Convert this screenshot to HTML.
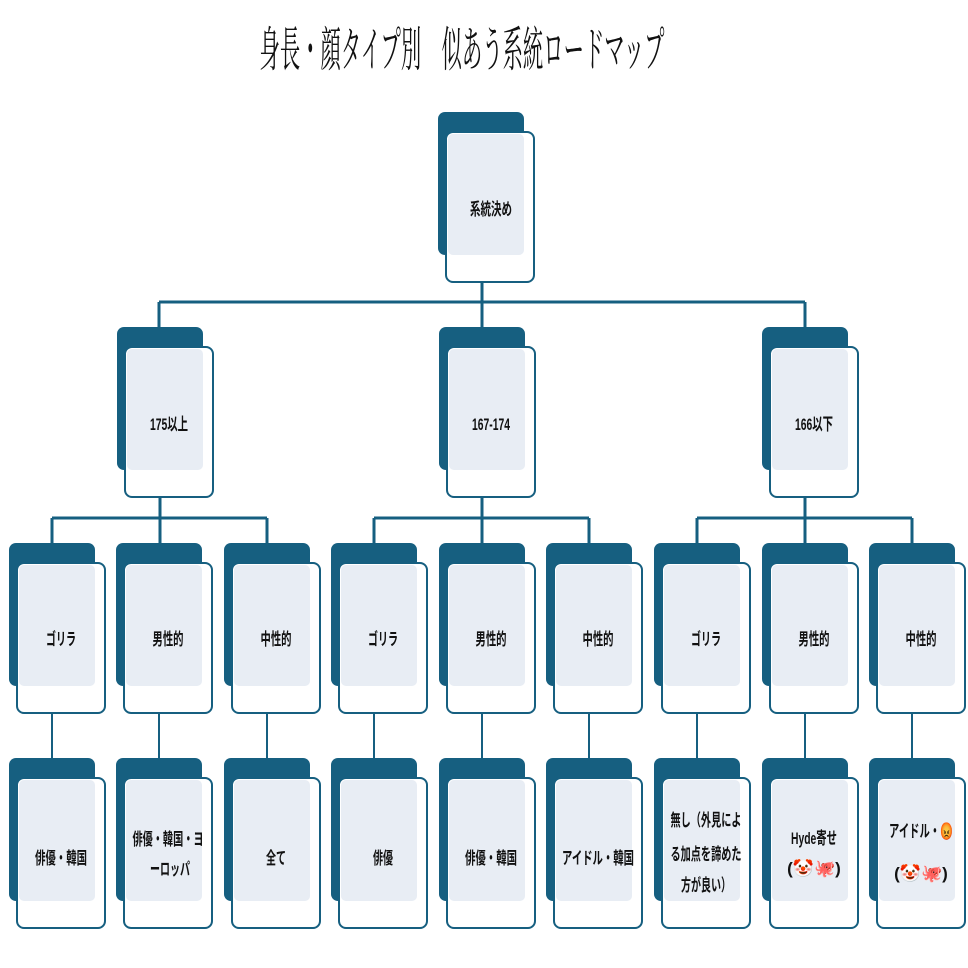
<!DOCTYPE html>
<html><head><meta charset="utf-8"><style>
html,body{margin:0;padding:0;background:#fff;}
svg{display:block;}
.t{font-family:"Liberation Sans","Noto Sans CJK JP",sans-serif;font-size:17px;font-weight:bold;fill:#111;text-anchor:middle;}
</style></head><body>
<svg width="968" height="968" viewBox="0 0 968 968" xmlns="http://www.w3.org/2000/svg">
<defs>
<g id="node">
  <rect x="0" y="0" width="86" height="143" rx="7" fill="#165f80"/>
  <rect x="8" y="20" width="88" height="150" rx="7" fill="#fff" stroke="#165f80" stroke-width="2"/>
  <rect x="10" y="22" width="76" height="121" rx="5" fill="#e8edf4"/>
</g>
</defs>
<text x="462" y="66" font-family="'Noto Serif CJK SC','Noto Serif CJK JP',serif" font-size="48" textLength="405" lengthAdjust="spacingAndGlyphs" text-anchor="middle" fill="#111">身長・顔タイプ別　似あう系統ロードマップ</text>

<g stroke="#165f80" stroke-width="3" fill="none">
  <path d="M482 256V302M159 302H805M159 302V327M482 302V327M805 302V327"/>
  <path d="M160 471V518M52 518H267M52 518V543M160 518V543M267 518V543"/>
  <path d="M482 471V518M374 518H589M374 518V543M482 518V543M589 518V543"/>
  <path d="M805 471V518M697 518H912M697 518V543M805 518V543M912 518V543"/>
</g>
<g stroke="#165f80" stroke-width="2" fill="none">
  <path d="M52 690V758M159 690V758M267 690V758M374 690V758M482 690V758M589 690V758M697 690V758M805 690V758M912 690V758"/>
</g>

<use href="#node" x="438" y="112"/>
<use href="#node" x="117" y="327"/>
<use href="#node" x="439" y="327"/>
<use href="#node" x="762" y="327"/>
<g>
<use href="#node" x="9" y="543"/><use href="#node" x="116" y="543"/><use href="#node" x="224" y="543"/>
<use href="#node" x="331" y="543"/><use href="#node" x="439" y="543"/><use href="#node" x="546" y="543"/>
<use href="#node" x="654" y="543"/><use href="#node" x="762" y="543"/><use href="#node" x="869" y="543"/>
<use href="#node" x="9" y="758"/><use href="#node" x="116" y="758"/><use href="#node" x="224" y="758"/>
<use href="#node" x="331" y="758"/><use href="#node" x="439" y="758"/><use href="#node" x="546" y="758"/>
<use href="#node" x="654" y="758"/><use href="#node" x="762" y="758"/><use href="#node" x="869" y="758"/>
</g>

<g>
<text class="t" x="491" y="215" textLength="42" lengthAdjust="spacingAndGlyphs">系統決め</text>
<text class="t" x="169" y="430" textLength="38" lengthAdjust="spacingAndGlyphs">175以上</text>
<text class="t" x="491" y="430" textLength="38" lengthAdjust="spacingAndGlyphs">167-174</text>
<text class="t" x="814" y="430" textLength="38" lengthAdjust="spacingAndGlyphs">166以下</text>

<text class="t" x="61" y="645" textLength="30" lengthAdjust="spacingAndGlyphs">ゴリラ</text>
<text class="t" x="168" y="645" textLength="31" lengthAdjust="spacingAndGlyphs">男性的</text>
<text class="t" x="276" y="645" textLength="31" lengthAdjust="spacingAndGlyphs">中性的</text>
<text class="t" x="383" y="645" textLength="30" lengthAdjust="spacingAndGlyphs">ゴリラ</text>
<text class="t" x="491" y="645" textLength="31" lengthAdjust="spacingAndGlyphs">男性的</text>
<text class="t" x="598" y="645" textLength="31" lengthAdjust="spacingAndGlyphs">中性的</text>
<text class="t" x="706" y="645" textLength="30" lengthAdjust="spacingAndGlyphs">ゴリラ</text>
<text class="t" x="814" y="645" textLength="31" lengthAdjust="spacingAndGlyphs">男性的</text>
<text class="t" x="921" y="645" textLength="31" lengthAdjust="spacingAndGlyphs">中性的</text>

<text class="t" x="61" y="864" textLength="52" lengthAdjust="spacingAndGlyphs">俳優・韓国</text>
<text class="t" x="168" y="845" textLength="71" lengthAdjust="spacingAndGlyphs">俳優・韓国・ヨ</text>
<text class="t" x="170" y="875" textLength="40" lengthAdjust="spacingAndGlyphs">ーロッパ</text>
<text class="t" x="276" y="864" textLength="20" lengthAdjust="spacingAndGlyphs">全て</text>
<text class="t" x="383" y="864" textLength="20" lengthAdjust="spacingAndGlyphs">俳優</text>
<text class="t" x="491" y="864" textLength="52" lengthAdjust="spacingAndGlyphs">俳優・韓国</text>
<text class="t" x="598" y="864" textLength="72" lengthAdjust="spacingAndGlyphs">アイドル・韓国</text>
<text class="t" x="706" y="826" textLength="71" lengthAdjust="spacingAndGlyphs">無し（外見によ</text>
<text class="t" x="706" y="860" textLength="71" lengthAdjust="spacingAndGlyphs">る加点を諦めた</text>
<text class="t" x="706" y="891" textLength="50" lengthAdjust="spacingAndGlyphs">方が良い）</text>
<text class="t" x="814" y="844" textLength="46" lengthAdjust="spacingAndGlyphs">Hyde寄せ</text>
<text class="t" x="814" y="874">(🤡🐙)</text>
<text class="t" x="921" y="837" textLength="64" lengthAdjust="spacingAndGlyphs">アイドル・😡</text>
<text class="t" x="921" y="879">(🤡🐙)</text>
</g>
</svg>
</body></html>
